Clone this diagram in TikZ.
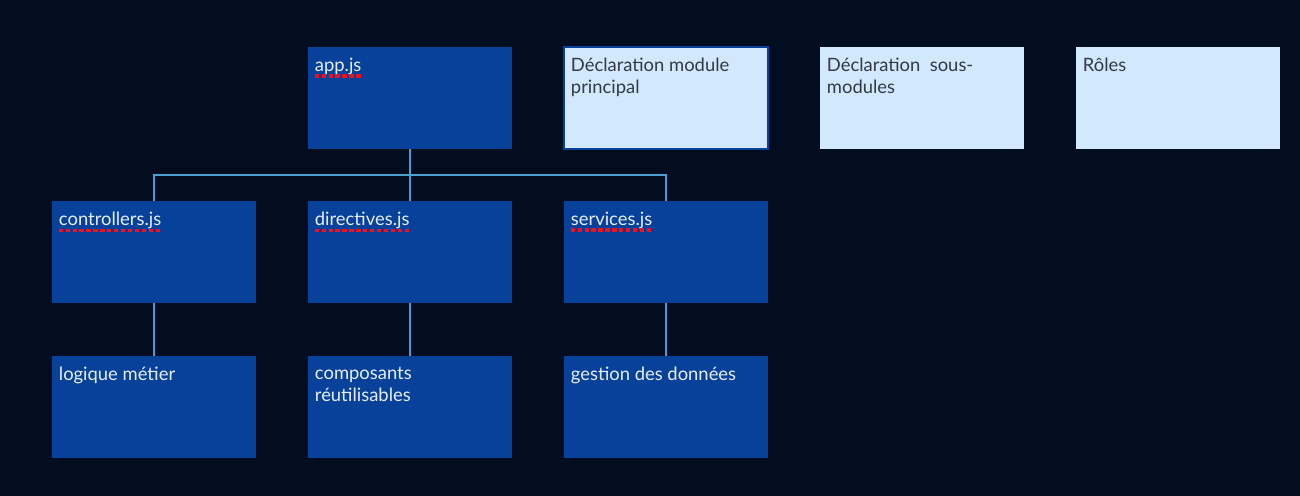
\documentclass[tikz,border=0pt]{standalone}
\usepackage{fontspec}
\setmainfont{Lato}
\usetikzlibrary{positioning}
\definecolor{night}{HTML}{020E20}
\definecolor{deep}{HTML}{07419A}
\definecolor{pale}{HTML}{D2E8FD}
\definecolor{wire}{HTML}{4BA0D0}
\definecolor{ink}{HTML}{333A44}
\definecolor{chalk}{HTML}{E8EEF8}
\definecolor{spell}{HTML}{F01020}

\begin{document}
\begin{tikzpicture}[x=0.75pt,y=-0.75pt,
  box/.style={fill=deep,minimum width=153pt,minimum height=76.5pt,inner sep=0pt,outer sep=0pt},
  note/.style={fill=pale,minimum width=153pt,minimum height=76.5pt,inner sep=0pt,outer sep=0pt},
  lbl/.style={anchor=north west,align=left,inner xsep=5pt,inner ysep=8pt,
    font=\fontsize{13.8}{16.5}\selectfont},
  link/.style={draw=wire,line width=1.5pt},
  squig/.style={draw=spell,line width=2.4pt,dash pattern=on 3.2pt off 2pt}]
\fill[night] (0,0) rectangle (1300,496);
\useasboundingbox (0,0) rectangle (1300,496);
% top row
\node[box,anchor=north west,label={[lbl,text=chalk,name=appT]north west:app.js}] (app) at (308,47) {};
\node[note,draw=deep,line width=1.5pt,right=39pt of app,
  label={[lbl,text=ink]north west:D\'eclaration module\\principal}] (principal) {};
\node[note,right=39pt of principal,
  label={[lbl,text=ink]north west:D\'eclaration\ \ sous-\\modules}] (sousmod) {};
\node[note,right=39pt of sousmod,label={[lbl,text=ink]north west:R\^oles}] (roles) {};
% second row
\node[box,below=39pt of app,label={[lbl,text=chalk,name=dirT]north west:directives.js}] (dir) {};
\node[box,left=39pt of dir,label={[lbl,text=chalk,name=ctrlT]north west:controllers.js}] (ctrl) {};
\node[box,right=39pt of dir,label={[lbl,text=chalk,name=servT]north west:services.js}] (serv) {};
% third row
\node[box,below=40pt of ctrl,label={[lbl,text=chalk]north west:logique m\'etier}] (logique) {};
\node[box,below=40pt of dir,label={[lbl,text=chalk]north west:composants\\r\'eutilisables}] (compo) {};
\node[box,below=40pt of serv,label={[lbl,text=chalk]north west:gestion des donn\'ees}] (gestion) {};
% connectors
\coordinate (fork) at ([yshift=-19.5pt]app.south);
\draw[link] (app.south) -- (fork);
\draw[link] (ctrl.north) |- (fork) -| (serv.north);
\draw[link] (fork) -- (dir.north);
\draw[link] (ctrl) -- (logique);
\draw[link] (dir) -- (compo);
\draw[link] (serv) -- (gestion);
% spell-check marks
\foreach \t in {appT,ctrlT,dirT,servT}
  \draw[squig] ([xshift=5pt,yshift=-3.5pt]\t.base west) -- ([xshift=-5pt,yshift=-3.5pt]\t.base east);
\end{tikzpicture}
\end{document}
